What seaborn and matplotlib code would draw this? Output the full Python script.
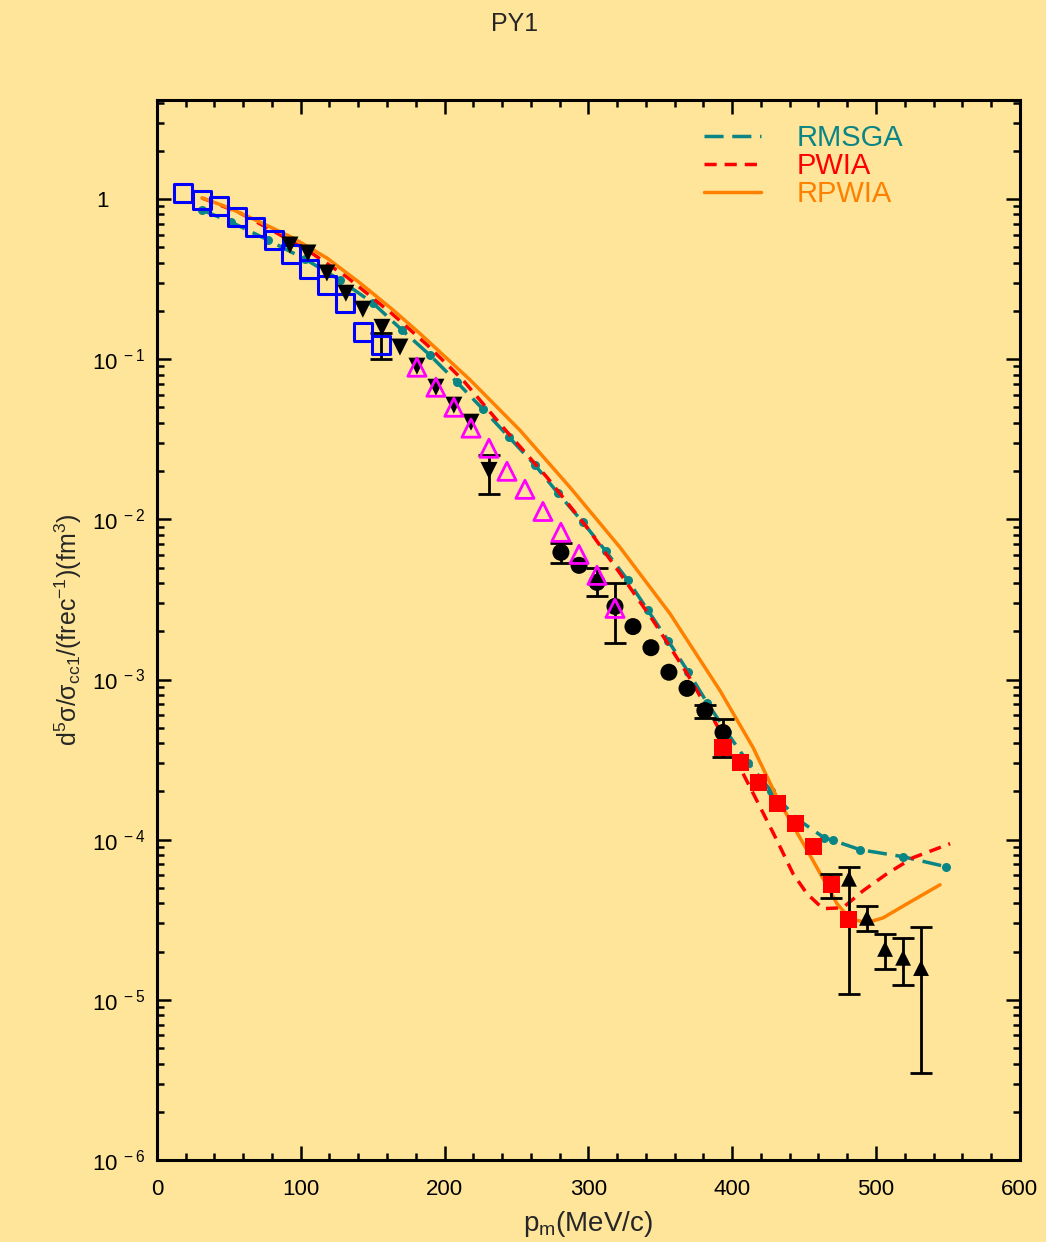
import numpy as np
import matplotlib
matplotlib.use("Agg")
import matplotlib.pyplot as plt
import seaborn as sns
from matplotlib.ticker import FixedLocator, MultipleLocator, LogLocator, FuncFormatter, NullFormatter

# --- theory curves ---
rmsga_x = [31.3, 51.5, 77.2, 102.9, 127.3, 150.2, 170.4, 189.8, 208.6, 226.7, 244.8, 262.9,
           278.9, 296.2, 312.2, 327.5, 341.4, 355.4, 369.3, 382.5, 396.4, 411.0, 427.0, 445.0,
           463.8, 470.0, 488.9, 518.8, 548.7]
rmsga_y = [0.853, 0.718, 0.554, 0.422, 0.312, 0.224, 0.152, 0.106, 0.0718, 0.0487, 0.0326, 0.0218,
           0.01454, 0.00958, 0.00631, 0.00416, 0.0027, 0.00175, 0.00112, 7.18e-4, 4.67e-4, 3.03e-4,
           2.02e-4, 1.35e-4, 1.03e-4, 9.9e-5, 8.66e-5, 7.83e-5, 6.78e-5]

pwia_x = [31.3, 57.7, 83.4, 106.4, 132.1, 164.1, 187.8, 212.8, 240.6, 271.2, 299.0, 322.0,
          344.9, 368.6, 391.5, 405.4, 417.2, 431.2, 442.3, 452.0, 463.1, 477.0, 491.0, 507.6,
          525.7, 551.5]
pwia_y = [1.015, 0.818, 0.613, 0.467, 0.326, 0.19, 0.123, 0.074, 0.0376, 0.0183, 0.00891, 0.0046,
          0.00234, 0.00109, 4.8e-4, 2.82e-4, 1.75e-4, 9.86e-5, 6.13e-5, 4.6e-5, 3.71e-5, 3.76e-5,
          4.8e-5, 6.13e-5, 7.72e-5, 9.44e-5]

rpwia_x = [31.3, 48.7, 71.6, 94.6, 118.2, 141.2, 164.1, 182.9, 217.7, 252.4, 287.2, 322.0,
           356.7, 391.5, 414.5, 431.2, 456.2, 472.9, 481.9, 493.7, 504.9, 521.6, 544.5]
rpwia_y = [1.015, 0.891, 0.718, 0.571, 0.428, 0.299, 0.203, 0.1445, 0.0743, 0.036, 0.01585,
           0.00668, 0.00258, 8.53e-4, 3.76e-4, 1.83e-4, 7.4e-5, 3.98e-5, 3.21e-5, 3.03e-5, 3.25e-5,
           3.98e-5, 5.23e-5]

# --- data sets (markers) ---
sq_x = [18.1, 31.3, 43.1, 55.6, 68.1, 81.4, 93.2, 105.7, 118.2, 130.7, 143.2, 155.8]
sq_y = [1.09, 0.985, 0.904, 0.772, 0.668, 0.554, 0.453, 0.365, 0.290, 0.224, 0.1475, 0.1224]

dt_x = [92.5, 105.0, 118.2, 131.4, 143.2, 156.5, 169.0, 180.8, 194.0, 206.5, 218.4, 230.9]
dt_y = [0.516, 0.46, 0.345, 0.258, 0.205, 0.158, 0.119, 0.0904, 0.0668, 0.0516, 0.0404, 0.0202]

ut_x = [180.8, 194.0, 206.5, 218.4, 230.9, 243.4, 255.9, 268.4, 280.9, 293.5, 306.0, 318.5]
ut_y = [0.0891, 0.0668, 0.0501, 0.0371, 0.0278, 0.01995, 0.0154, 0.0112, 0.0083, 0.00604,
        0.00447, 0.00278]

ci_x = [280.9, 293.5, 306.0, 318.5, 331.0, 343.5, 356.0, 368.6, 381.0, 393.6]
ci_y = [0.00622, 0.00516, 0.00404, 0.00286, 0.00214, 0.00158, 0.00111, 8.8e-4, 6.4e-4, 4.67e-4]

rs_x = [393.6, 406.1, 418.6, 431.2, 443.7, 456.2, 468.7, 481.2]
rs_y = [3.76e-4, 3.03e-4, 2.27e-4, 1.68e-4, 1.26e-4, 9.04e-5, 5.23e-5, 3.16e-5]

bt_x = [481.2, 493.7, 506.3, 518.8, 531.3]
bt_y = [5.70e-5, 3.25e-5, 2.08e-5, 1.83e-5, 1.58e-5]

# --- error bars (x, central value, low, high) ---
err_x = [155.8, 230.9, 280.9, 306.0, 318.5, 381.0, 393.6, 468.7,
         481.2, 493.7, 506.3, 518.8, 531.3]
err_y = [0.1224, 0.0202, 0.00622, 0.00404, 0.00286, 6.4e-4, 4.67e-4, 5.23e-5,
         5.70e-5, 3.25e-5, 2.08e-5, 1.83e-5, 1.58e-5]
err_lo = [0.100, 0.0143, 0.00531, 0.0033, 0.00168, 5.79e-4, 3.3e-4, 4.34e-5,
          1.09e-5, 2.70e-5, 1.56e-5, 1.24e-5, 3.5e-6]
err_hi = [0.145, 0.0251, 0.00708, 0.0050, 0.00398, 6.98e-4, 5.7e-4, 6.13e-5,
          6.78e-5, 3.87e-5, 2.58e-5, 2.44e-5, 2.86e-5]

BG = "#FEE599"
sns.set_style("ticks", {"axes.facecolor": BG, "figure.facecolor": BG})
plt.rcParams["font.family"] = ["Liberation Sans", "DejaVu Sans"]
plt.rcParams["mathtext.fontset"] = "custom"
plt.rcParams["mathtext.rm"] = "Liberation Sans"
plt.rcParams["mathtext.it"] = "Liberation Sans"

fig = plt.figure(figsize=(10.46, 12.42), dpi=100)
ax = fig.add_axes([0.150, 0.066, 0.825, 0.8535])

# theory curves
sns.lineplot(x=rmsga_x, y=rmsga_y, color="#0A8585", lw=2.5, ax=ax, label="RMSGA",
             marker="o", markersize=6.5, markeredgewidth=0, sort=False)
ax.lines[-1].set_dashes([5.5, 2.5])
sns.lineplot(x=pwia_x, y=pwia_y, color="#FF0000", lw=2.5, ax=ax, label="PWIA", sort=False)
ax.lines[-1].set_dashes([3.5, 2.3])
sns.lineplot(x=rpwia_x, y=rpwia_y, color="#FF8000", lw=2.5, ax=ax, label="RPWIA", sort=False)

# error bars
yerr = np.array([np.array(err_y) - np.array(err_lo), np.array(err_hi) - np.array(err_y)])
ax.errorbar(err_x, err_y, yerr=yerr, fmt="none", ecolor="black", elinewidth=2,
            capsize=8, capthick=2, zorder=3)

# data markers
sns.scatterplot(x=sq_x, y=sq_y, marker="s", s=175, facecolor="none", edgecolor="#0000FF",
                linewidth=2.2, ax=ax, zorder=4)
sns.scatterplot(x=dt_x, y=dt_y, marker="v", s=150, color="black", edgecolor="none",
                ax=ax, zorder=4)
sns.scatterplot(x=ut_x, y=ut_y, marker="^", s=170, facecolor="none", edgecolor="#FF00FF",
                linewidth=2, ax=ax, zorder=5)
sns.scatterplot(x=ci_x, y=ci_y, marker="o", s=150, color="black", edgecolor="none",
                ax=ax, zorder=4)
sns.scatterplot(x=rs_x, y=rs_y, marker="s", s=150, color="#FF0000", edgecolor="none",
                ax=ax, zorder=4)
sns.scatterplot(x=bt_x, y=bt_y, marker="^", s=130, color="black", edgecolor="none",
                ax=ax, zorder=4)

ax.set_yscale("log")
ax.set_xlim(0, 600)
ax.set_ylim(1e-6, 4.15)

ax.xaxis.set_major_locator(MultipleLocator(100))
ax.xaxis.set_minor_locator(MultipleLocator(20))
ax.yaxis.set_major_locator(FixedLocator([1e-6, 1e-5, 1e-4, 1e-3, 1e-2, 1e-1, 1]))
ax.yaxis.set_minor_locator(LogLocator(base=10, subs=np.arange(2, 10), numticks=20))
ax.yaxis.set_minor_formatter(NullFormatter())


def yfmt(v, pos):
    e = int(round(np.log10(v)))
    if e == 0:
        return "1      "
    return r"$\mathregular{10^{\ %d}}$" % e


ax.yaxis.set_major_formatter(FuncFormatter(yfmt))

ax.tick_params(which="both", direction="in", top=True, right=True, width=1.8, colors="black")
ax.tick_params(which="major", length=10, labelsize=16, pad=8)
ax.tick_params(axis="x", which="major", pad=14)
ax.tick_params(which="minor", length=5)
for s in ax.spines.values():
    s.set_linewidth(2.2)
    s.set_color("black")

ax.set_xlabel(r"$\mathregular{p_m(MeV/c)}$", fontsize=20, labelpad=6)
ax.set_ylabel(r"$\mathregular{d^5\sigma/\sigma_{cc1}/(frec^{-1})(fm^3)}$", fontsize=18, labelpad=6)
fig.text(0.492, 0.981, "PY1", ha="center", va="center", fontsize=18)

leg = ax.legend(loc="upper left", bbox_to_anchor=(0.621, 0.988), frameon=False, fontsize=21,
                labelcolor="linecolor", handlelength=1.95, handletextpad=1.2, labelspacing=0.0,
                borderaxespad=0)
for h in leg.legend_handles:
    h.set_marker("")

fig.savefig("out.png", dpi=100, facecolor=BG)
